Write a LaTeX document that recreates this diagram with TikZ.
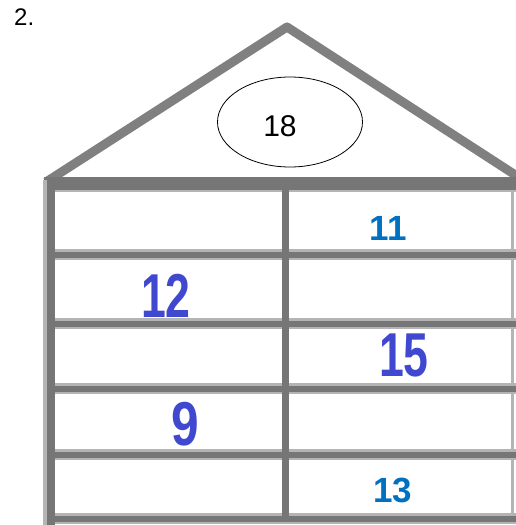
\documentclass[tikz,border=0pt]{standalone}
\usepackage{fontspec}
\setmainfont{Liberation Sans}
\usetikzlibrary{shapes.geometric}
\definecolor{framegray}{RGB}{128,128,128}
\definecolor{darkrule}{RGB}{118,118,118}
\definecolor{lightrule}{RGB}{180,180,180}
\definecolor{numblue}{RGB}{0,112,192}
\definecolor{pixblue}{RGB}{64,72,208}
\begin{document}
\begin{tikzpicture}[x=1pt,y=-1pt,line join=round,
  rulelight/.style={lightrule,line width=11pt},
  ruledark/.style={darkrule,line width=6pt},
  boldnum/.style={inner sep=0pt,text=numblue,font=\fontsize{35}{35}\selectfont\bfseries},
  pixnum/.style={inner sep=0pt,text=pixblue,font=\fontsize{62}{62}\selectfont\bfseries}]
  \useasboundingbox (0,0) rectangle (516,525);
  \node[anchor=base west,inner sep=0pt,font=\fontsize{24}{24}\selectfont] (label) at (14,25) {2.};
  % roof
  \draw[framegray,line width=9pt] (46,182) -- (287,27) -- (520,178);
  \draw[ruledark,line width=13pt] (44,183.5) -- (516,183.5);
  \draw[lightrule,line width=2pt] (52,191) -- (516,191);
  \node[ellipse,draw,line width=0.8pt,minimum width=145pt,minimum height=90pt] (top) at (290,122) {};
  \node[inner sep=0pt,font=\fontsize{30}{30}\selectfont] (topnum) at (280,126) {18};
  % table frame
  \draw[rulelight,line width=12pt] (49,180) -- (49,525);
  \draw[ruledark,line width=8pt] (51,180) -- (51,525);
  \draw[lightrule,line width=3pt] (512,190) -- (512,516);
  \foreach \y in {254,323,388,454,518}
    \draw[rulelight] (55,\y) -- (516,\y);
  \foreach \y in {254,323,388,454,518}
    \draw[ruledark] (55,\y+1) -- (516,\y+1);
  \draw[ruledark,line width=7pt] (285.5,190) -- (285.5,522);
  % numbers
  \node[boldnum] (n11) at (388,228) {11};
  \node[pixnum] (n12) at (166,296) {\scalebox{0.72}[1]{12}};
  \node[pixnum] (n15) at (404,355) {\scalebox{0.72}[1]{15}};
  \node[pixnum] (n9) at (185,424) {\scalebox{0.8}[1]{9}};
  \node[boldnum] (n13) at (393,490) {13};
\end{tikzpicture}
\end{document}
